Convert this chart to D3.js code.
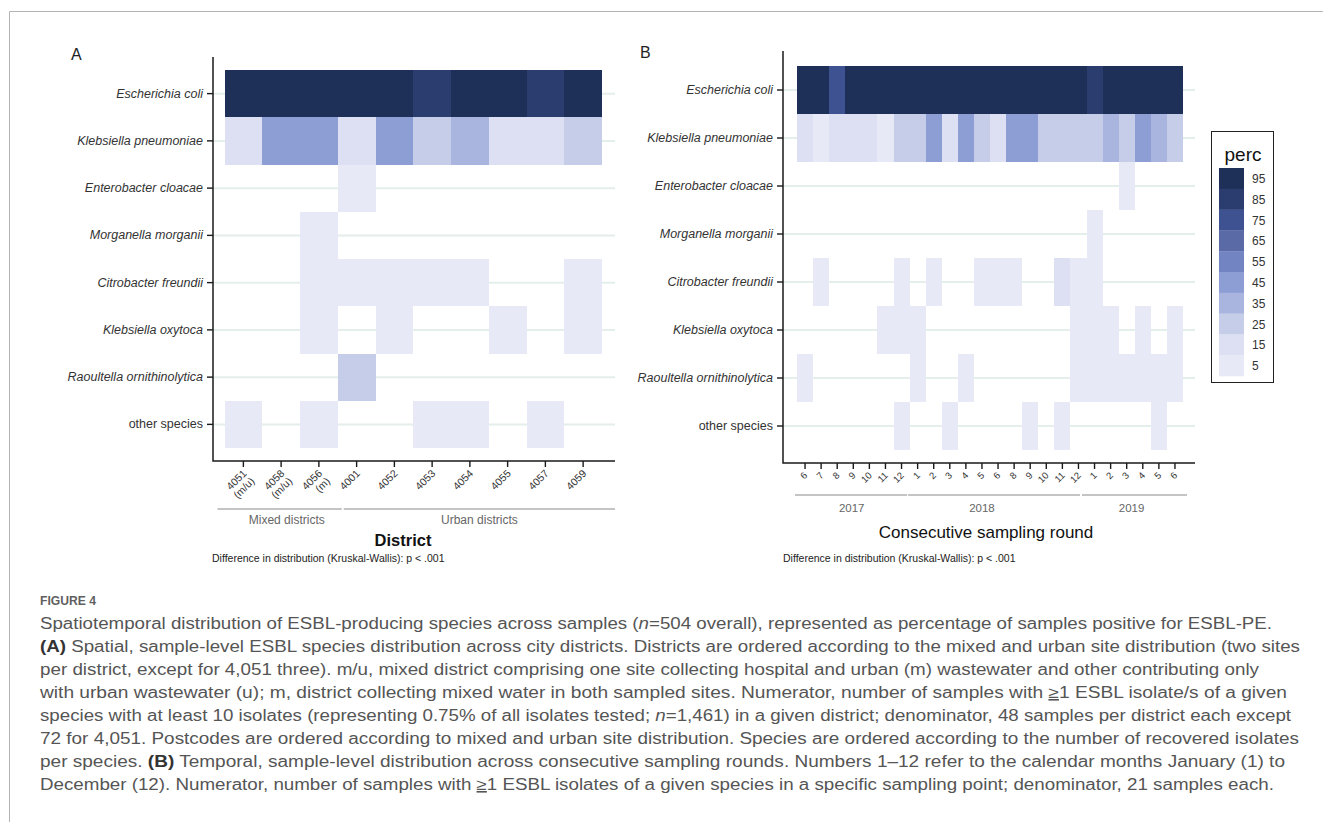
<!DOCTYPE html>
<html>
<head>
<meta charset="utf-8">
<script src="https://cdn.jsdelivr.net/npm/d3@7"></script>
<style>
  body { margin: 0; background: #fff; }
  svg { display: block; }
  text { font-family: "Liberation Sans", Arial, sans-serif; }
</style>
</head>
<body>
<svg id="fig" width="1323" height="822"></svg>
<script>
// ---- data -------------------------------------------------------------
const species = [
  "Escherichia coli", "Klebsiella pneumoniae", "Enterobacter cloacae",
  "Morganella morganii", "Citrobacter freundii", "Klebsiella oxytoca",
  "Raoultella ornithinolytica", "other species"
];

// Panel A: districts (percentage of samples positive per species)
const districts = ["4051 (m/u)", "4058 (m/u)", "4056 (m)", "4001", "4052",
                   "4053", "4054", "4055", "4057", "4059"];
const districtGroupNames = ["Mixed districts", "Urban districts"];
const districtGroupSizes = [3, 7];

const aEcoli   = [97.2, 97.9, 95.8, 97.9, 95.8, 87.5, 97.9, 95.8, 85.4, 97.9];
const aKpneu   = [13.9, 47.9, 43.8, 14.6, 45.8, 25.0, 37.5, 16.7, 14.6, 27.1];
const aEclo    = [null, null, null, 6.3, null, null, null, null, null, null];
const aMmorg   = [null, null, 4.2, null, null, null, null, null, null, null];
const aCfreu   = [null, null, 6.3, 8.3, 4.2, 6.3, 4.2, null, null, 6.3];
const aKoxy    = [null, null, 4.2, null, 6.3, null, null, 4.2, null, 8.3];
const aRorni   = [null, null, null, 22.9, null, null, null, null, null, null];
const aOther   = [4.2, null, 6.3, null, null, 4.2, 8.3, null, 6.3, null];
const districtValues = [aEcoli, aKpneu, aEclo, aMmorg, aCfreu, aKoxy, aRorni, aOther];

// Panel B: consecutive sampling rounds (month numbers, grouped by year)
const roundMonths = [6, 7, 8, 9, 10, 11, 12, 1, 2, 3, 4, 5, 6, 8, 9, 10, 11, 12, 1, 2, 3, 4, 5, 6];
const roundYears  = [2017, 2017, 2017, 2017, 2017, 2017, 2017,
                     2018, 2018, 2018, 2018, 2018, 2018, 2018, 2018, 2018, 2018, 2018,
                     2019, 2019, 2019, 2019, 2019, 2019];
const yearNames = ["2017", "2018", "2019"];

const bEcoli = [100, 95.2, 76.2, 100, 100, 95.2, 100, 100, 95.2, 100, 100, 100,
                95.2, 100, 100, 100, 95.2, 100, 85.7, 100, 100, 95.2, 100, 100];
const bKpneu = [14.3, 4.8, 19.0, 14.3, 14.3, 9.5, 23.8, 28.6, 47.6, 14.3, 42.9, 23.8,
                14.3, 47.6, 42.9, 28.6, 23.8, 23.8, 28.6, 33.3, 23.8, 42.9, 38.1, 28.6];
const bEclo  = [null, null, null, null, null, null, null, null, null, null, null, null,
                null, null, null, null, null, null, null, null, 4.8, null, null, null];
const bMmorg = [null, null, null, null, null, null, null, null, null, null, null, null,
                null, null, null, null, null, null, 4.8, null, null, null, null, null];
const bCfreu = [null, 4.8, null, null, null, null, 4.8, null, 4.8, null, null, 4.8,
                9.5, 4.8, null, null, 14.3, 4.8, 9.5, null, null, null, null, null];
const bKoxy  = [null, null, null, null, null, 4.8, 4.8, 4.8, null, null, null, null,
                null, null, null, null, null, 9.5, 4.8, 4.8, null, 4.8, null, 4.8];
const bRorni = [4.8, null, null, null, null, null, null, 4.8, null, null, 4.8, null,
                null, null, null, null, null, 4.8, 9.5, 4.8, 4.8, 4.8, 9.5, 4.8];
const bOther = [null, null, null, null, null, null, 4.8, null, null, 4.8, null, null,
                null, null, 4.8, null, 4.8, null, null, null, null, null, 4.8, null];
const roundValues = [bEcoli, bKpneu, bEclo, bMmorg, bCfreu, bKoxy, bRorni, bOther];

// Colour legend (binned percentage)
const legendLabels = [95, 85, 75, 65, 55, 45, 35, 25, 15, 5];
const legendColours = ["#1f3058", "#2b3c6e", "#3e5190", "#5a6aa6", "#7384c2",
                       "#8d9ed4", "#a9b5de", "#c6cde8", "#dce0f2", "#e8e9f6"];
const legendTitle = "perc";

// ---- setup ------------------------------------------------------------
const svg = d3.select("#fig");
const ink = "#1a1a1a";

const colour = d3.scaleThreshold()
  .domain([10, 20, 30, 40, 50, 60, 70, 80, 90])
  .range(legendColours.slice().reverse());

// outer frame
svg.append("path")
  .attr("d", "M9.5,822 V11.5 H1323")
  .attr("fill", "none").attr("stroke", "#b4b4b4").attr("stroke-width", 1);

function heatPanel(opt) {
  const g = svg.append("g");
  const x = d3.scaleBand().domain(opt.cols).range(opt.xRange).padding(0);
  const y = d3.scaleBand().domain(species).range(opt.yRange).padding(0);

  // faint row guides
  g.append("g").selectAll("line").data(species).join("line")
    .attr("x1", opt.axisX).attr("x2", opt.axisEnd)
    .attr("y1", d => y(d) + y.bandwidth() / 2)
    .attr("y2", d => y(d) + y.bandwidth() / 2)
    .attr("stroke", "#e4eeeb").attr("stroke-width", 2);

  // cells
  const cells = [];
  opt.values.forEach((row, i) => row.forEach((v, j) => {
    if (v != null) cells.push({ s: species[i], c: opt.cols[j], v });
  }));
  g.append("g").attr("shape-rendering", "crispEdges")
    .selectAll("rect").data(cells).join("rect")
    .attr("x", d => x(d.c)).attr("y", d => y(d.s))
    .attr("width", x.bandwidth()).attr("height", y.bandwidth())
    .attr("fill", d => colour(d.v));

  // y axis
  const ya = g.append("g").attr("transform", `translate(${opt.axisX},0)`)
    .call(d3.axisLeft(y).tickSize(6).tickPadding(4));
  ya.select(".domain").remove();
  ya.selectAll(".tick line").attr("stroke", ink).attr("stroke-width", 1.4);
  ya.selectAll(".tick text")
    .attr("font-size", 12.5).attr("fill", "#333")
    .attr("font-family", "'Liberation Sans', Arial, sans-serif")
    .attr("font-style", d => d === "other species" ? "normal" : "italic");

  // x axis
  const xa = g.append("g").attr("transform", `translate(0,${opt.axisY})`)
    .call(d3.axisBottom(x).tickSize(6));
  xa.select(".domain").remove();
  xa.selectAll(".tick line").attr("stroke", ink).attr("stroke-width", 1.4);
  xa.selectAll(".tick text").each(function (d, i) {
    const t = d3.select(this);
    const parts = opt.tickText(d, i);
    t.text(null)
      .attr("x", 0).attr("y", 0).attr("dy", null)
      .attr("text-anchor", "end")
      .attr("font-size", opt.tickFont).attr("fill", "#333")
      .attr("font-family", "'Liberation Sans', Arial, sans-serif")
      .attr("transform", `translate(${opt.tickShift[0]},${opt.tickShift[1]}) rotate(-45)`);
    parts.forEach((p, k) => t.append("tspan").attr("x", 0).attr("dy", k ? "1.05em" : 0).text(p));
  });

  // axis lines
  g.append("path")
    .attr("d", `M${opt.axisX},${opt.axisTop} V${opt.axisY} H${opt.axisEnd}`)
    .attr("fill", "none").attr("stroke", ink).attr("stroke-width", 1.5);

  // panel letter
  g.append("text").attr("x", opt.letterPos[0]).attr("y", opt.letterPos[1])
    .attr("font-size", 16).attr("fill", "#222").text(opt.letter);

  return { g, x, y };
}

// ---- panel A ----------------------------------------------------------
const A = heatPanel({
  cols: districts, values: districtValues,
  xRange: [224.5, 602], yRange: [70, 448],
  axisX: 213, axisY: 461, axisTop: 57, axisEnd: 615,
  tickFont: 10.5, tickShift: [4, 13],
  tickText: d => d.split(" "),
  letter: "A", letterPos: [71, 60]
});

{
  const bw = A.x.bandwidth();
  let start = 0;
  const spans = districtGroupSizes.map((n, k) => {
    const first = districts[start], last = districts[start + n - 1];
    start += n;
    return { k, first, last };
  });
  const x0 = [A.x(spans[0].first) - 7, A.x(spans[1].first) + 6];
  const x1 = [A.x(spans[1].first) + 4, 615];
  const labelX = [A.x(spans[0].first) + bw * 1.65, (x0[1] + x1[1]) / 2];
  spans.forEach(s => {
    A.g.append("line").attr("x1", x0[s.k]).attr("x2", x1[s.k])
      .attr("y1", 509).attr("y2", 509).attr("stroke", "#8a8a8a").attr("stroke-width", 1.2);
    A.g.append("text").attr("x", labelX[s.k]).attr("y", 524)
      .attr("text-anchor", "middle").attr("font-size", 12).attr("fill", "#666")
      .text(districtGroupNames[s.k]);
  });
  A.g.append("text").attr("x", 403).attr("y", 546).attr("text-anchor", "middle")
    .attr("font-size", 16.5).attr("font-weight", "bold").attr("fill", "#111").text("District");
  A.g.append("text").attr("x", 212).attr("y", 562)
    .attr("font-size", 10.5).attr("fill", "#222")
    .text("Difference in distribution (Kruskal-Wallis): p < .001");
}

// ---- panel B ----------------------------------------------------------
const roundIds = roundMonths.map((m, i) => `${roundYears[i]}-${m}`);
const B = heatPanel({
  cols: roundIds, values: roundValues,
  xRange: [797, 1183], yRange: [66, 450],
  axisX: 783, axisY: 463, axisTop: 51, axisEnd: 1195,
  tickFont: 9.5, tickShift: [3, 13],
  tickText: (d, i) => [String(roundMonths[i])],
  letter: "B", letterPos: [640, 58]
});

{
  const bw = B.x.bandwidth();
  const labelAt = [3.4, 11.5, 20.8];
  yearNames.forEach((yr, k) => {
    const idx = roundYears.map((v, i) => v === +yr ? i : -1).filter(i => i >= 0);
    const first = idx[0], last = idx[idx.length - 1];
    const xs = B.x(roundIds[first]) - (k === 0 ? 2 : k === 1 ? 1.5 : 4.5);
    const xe = k < yearNames.length - 1 ? B.x(roundIds[last + 1]) - (k === 0 ? 2.5 : 6.5)
                                        : B.x(roundIds[last]) + bw + 4;
    B.g.append("line").attr("x1", xs).attr("x2", xe)
      .attr("y1", 495).attr("y2", 495).attr("stroke", "#8a8a8a").attr("stroke-width", 1.2);
    B.g.append("text").attr("x", B.x.range()[0] + labelAt[k] * bw).attr("y", 512)
      .attr("text-anchor", "middle").attr("font-size", 11.5).attr("fill", "#666").text(yr);
  });
  B.g.append("text").attr("x", 986).attr("y", 538).attr("text-anchor", "middle")
    .attr("font-size", 17).attr("fill", "#111").text("Consecutive sampling round");
  B.g.append("text").attr("x", 783).attr("y", 562)
    .attr("font-size", 10.5).attr("fill", "#222")
    .text("Difference in distribution (Kruskal-Wallis): p < .001");
}

// ---- legend -----------------------------------------------------------
{
  const lg = svg.append("g");
  lg.append("rect").attr("x", 1211.5).attr("y", 131.5).attr("width", 62).attr("height", 251)
    .attr("fill", "#fff").attr("stroke", "#222").attr("stroke-width", 1);
  lg.append("text").attr("x", 1243).attr("y", 161).attr("text-anchor", "middle")
    .attr("font-size", 19).attr("fill", "#111").text(legendTitle);
  const ly = d3.scaleBand().domain(legendLabels).range([168, 376]);
  lg.selectAll("rect.sw").data(legendLabels).join("rect").attr("class", "sw")
    .attr("x", 1219).attr("y", d => ly(d)).attr("width", 25).attr("height", ly.bandwidth() + 0.3)
    .attr("fill", (d, i) => legendColours[i]);
  lg.selectAll("text.lb").data(legendLabels).join("text").attr("class", "lb")
    .attr("x", 1252).attr("y", d => ly(d) + ly.bandwidth() / 2 + 4.5)
    .attr("font-size", 12).attr("fill", "#333").text(d => d);
}

// ---- caption ----------------------------------------------------------
{
  const cap = svg.append("g").attr("fill", "#555")
    .style("font-family", "'Liberation Sans Narrow', 'DejaVu Sans Condensed', 'Open Sans', sans-serif");
  cap.append("text").attr("x", 40).attr("y", 605).attr("font-size", 12.5)
    .attr("font-weight", "bold").attr("fill", "#5f5f5f").attr("textLength", 56)
    .attr("lengthAdjust", "spacingAndGlyphs").text("FIGURE 4");

  const lines = [
    [["", "Spatiotemporal distribution of ESBL-producing species across samples ("], ["i", "n"], ["", "=504 overall), represented as percentage of samples positive for ESBL-PE."]],
    [["b", "(A)"], ["", " Spatial, sample-level ESBL species distribution across city districts. Districts are ordered according to the mixed and urban site distribution (two sites"]],
    [["", "per district, except for 4,051 three). m/u, mixed district comprising one site collecting hospital and urban (m) wastewater and other contributing only"]],
    [["", "with urban wastewater (u); m, district collecting mixed water in both sampled sites. Numerator, number of samples with "], ["u", "≥"], ["", "1 ESBL isolate/s of a given"]],
    [["", "species with at least 10 isolates (representing 0.75% of all isolates tested; "], ["i", "n"], ["", "=1,461) in a given district; denominator, 48 samples per district each except"]],
    [["", "72 for 4,051. Postcodes are ordered according to mixed and urban site distribution. Species are ordered according to the number of recovered isolates"]],
    [["", "per species. "], ["b", "(B)"], ["", " Temporal, sample-level distribution across consecutive sampling rounds. Numbers 1–12 refer to the calendar months January (1) to"]],
    [["", "December (12). Numerator, number of samples with "], ["u", "≥"], ["", "1 ESBL isolates of a given species in a specific sampling point; denominator, 21 samples each."]]
  ];
  const lineEnds = [1272, 1300, 1259, 1287, 1291, 1299, 1285, 1274];
  lines.forEach((parts, i) => {
    const t = cap.append("text").attr("x", 40).attr("y", 629 + i * 23)
      .attr("font-size", 16)
      .attr("textLength", lineEnds[i] - 40).attr("lengthAdjust", "spacingAndGlyphs");
    parts.forEach(([style, s]) => {
      const sp = t.append("tspan").text(s);
      if (style === "i") sp.attr("font-style", "italic");
      if (style === "b") sp.attr("font-weight", "bold").attr("fill", "#333");
      if (style === "u") sp.attr("text-decoration", "underline");
    });
  });
}
</script>
</body>
</html>
